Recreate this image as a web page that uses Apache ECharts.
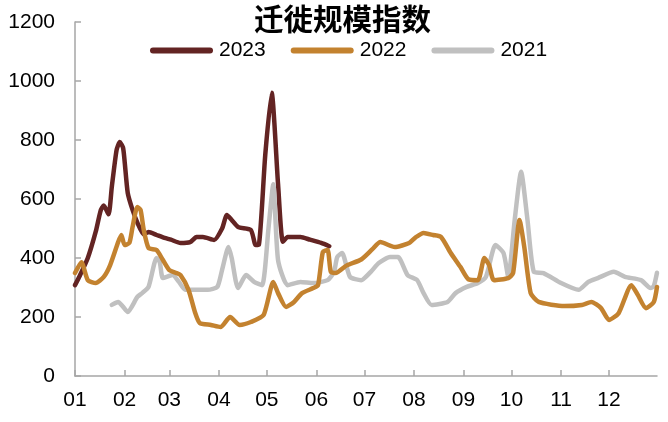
<!DOCTYPE html>
<html>
<head>
<meta charset="utf-8">
<script src="https://cdn.jsdelivr.net/npm/echarts@6/dist/echarts.min.js"></script>
<style>html,body{margin:0;padding:0;background:#fff}#c{width:668px;height:422px}</style>
</head>
<body>
<div id="c"></div>
<script>
const title = '迁徙规模指数';
const monthLabels = ['01','02','03','04','05','06','07','08','09','10','11','12'];
const monthLengths = [31,28,31,30,31,30,31,31,30,31,30,31];
const seriesNames = ['2023','2022','2021'];
const yTicks = [0,200,400,600,800,1000,1200];

// day-of-year index and value pairs
const days2023 = [0,3,8,13,16,18,21,23,26,28,30,31,33,36,39,43,46,51,56,60,66,72,76,80,87,92,95,98,102,110,113,115,119,123,127,130,133,141,147,154,159];
const vals2023 = [308,340,400,490,560,578,548,640,766,793,775,730,620,563,520,480,488,478,468,462,451,454,471,471,461,500,546,529,505,495,444,445,750,960,650,455,471,471,462,451,440];

const days2022 = [0,4,8,13,18,22,27,29,31,34,36,39,41,43,46,51,55,59,63,66,71,75,78,85,91,97,103,110,118,124,127,132,137,142,149,152,155,158,160,163,170,179,186,191,200,209,213,218,224,229,235,241,246,252,256,259,262,271,274,278,281,285,290,306,317,323,329,334,340,348,352,357,362,364];
const vals2022 = [349,386,325,315,336,376,454,478,444,451,505,573,563,495,434,427,393,359,350,342,292,217,180,173,166,200,173,183,207,319,281,234,251,281,298,308,420,427,353,349,375,395,430,454,437,451,470,485,478,471,417,370,328,325,400,376,325,332,349,529,437,281,251,237,241,251,230,190,213,308,275,230,251,302];

const days2021 = [23,27,30,33,39,42,46,51,53,55,61,65,69,83,89,92,96,98,102,107,112,117,121,124,127,133,141,149,158,162,164,167,172,179,185,190,197,202,208,214,218,223,233,238,245,252,257,263,268,271,275,279,283,287,293,304,315,321,327,337,344,354,360,362,364];
const vals2021 = [241,251,235,217,268,281,302,400,386,332,342,319,292,292,302,360,437,400,298,342,319,308,500,650,393,308,319,315,325,353,403,417,336,325,353,383,403,403,342,325,281,241,251,281,302,315,336,444,417,336,529,692,529,353,349,315,292,319,332,353,336,325,298,305,350];

const categories = [];
monthLengths.forEach((len, m) => { for (let d = 1; d <= len; d++) categories.push(monthLabels[m] + '-' + d); });
const monthStart = new Set();
{ let acc = 0; monthLengths.forEach(len => { monthStart.add(acc); acc += len; }); }

const pairs = (ds, vs) => ds.map((d, i) => [d, vs[i]]);
const colors = ['#632423', '#C3822F', '#C0C0C0'];
const FONT = '"Liberation Sans", Arial, sans-serif';
const legendIcon = 'path://M3 0H60A3 3 0 0 1 60 6H3A3 3 0 0 1 3 0Z';

const chart = echarts.init(document.getElementById('c'), null, {renderer: 'canvas'});
chart.setOption({
  animation: false,
  backgroundColor: '#fff',
  title: {
    text: title, left: 254, top: 4, padding: 0,
    textStyle: {fontFamily: '"Noto Sans CJK SC"', fontSize: 29.5, fontWeight: 'bold', color: '#000'}
  },
  legend: {
    data: seriesNames, left: 150, top: 40, padding: 0,
    itemWidth: 63, itemHeight: 6, itemGap: 25, icon: legendIcon,
    textStyle: {fontFamily: FONT, fontSize: 21, color: '#000', padding: [0,0,0,1]}
  },
  grid: {left: 75, right: 11, top: 22, bottom: 46, containLabel: false},
  xAxis: {
    type: 'category', data: categories, boundaryGap: false,
    axisLine: {lineStyle: {color: '#A6A6A6', width: 1.5}},
    axisTick: {inside: true, length: 6, lineStyle: {color: '#A6A6A6', width: 1.5},
      interval: (i) => monthStart.has(i)},
    axisLabel: {interval: (i) => monthStart.has(i), margin: 14,
      formatter: (v) => v.split('-')[0],
      fontFamily: FONT, fontSize: 21, color: '#000'},
    splitLine: {show: false}
  },
  yAxis: {
    type: 'value', min: yTicks[0], max: yTicks[yTicks.length-1], interval: 200,
    axisLine: {show: true, lineStyle: {color: '#A6A6A6', width: 1.5}},
    axisTick: {show: true, inside: true, length: 6, lineStyle: {color: '#A6A6A6', width: 1.5}},
    axisLabel: {margin: 20, fontFamily: FONT, fontSize: 21, color: '#000',
      formatter: (v) => String(v)},
    splitLine: {show: false}
  },
  series: [
    {name: seriesNames[0], type: 'line', z: 2, data: pairs(days2023, vals2023)},
    {name: seriesNames[1], type: 'line', z: 4, data: pairs(days2022, vals2022)},
    {name: seriesNames[2], type: 'line', z: 3, data: pairs(days2021, vals2021)}
  ].map((s, i) => Object.assign(s, {
    symbol: 'none', smooth: 0.2, color: colors[i],
    itemStyle: {color: colors[i]},
    lineStyle: {color: colors[i], width: 4.5, cap: 'round', join: 'round'}
  }))
});
</script>
</body>
</html>
